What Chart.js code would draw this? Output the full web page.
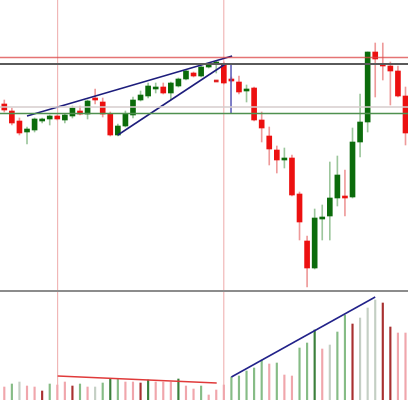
<!DOCTYPE html>
<html>
<head>
<meta charset="utf-8">
<script src="https://cdn.jsdelivr.net/npm/chart.js@4.4.0/dist/chart.umd.min.js"></script>
<style>
  html, body { margin: 0; padding: 0; background: #fff; overflow: hidden; }
  #wrap { width: 408px; height: 400px; position: relative; }
  canvas { display: block; }
  #sep { height: 2px; background: #8c8c8c; }
</style>
</head>
<body>
<div id="wrap">
  <canvas id="chart-price" width="408" height="290"></canvas>
  <div id="sep"></div>
  <canvas id="chart-volume" width="408" height="108"></canvas>
</div>
<script>
// Candle data (bar index 0..53)
const opens  = [196,189,179,168,170,179,181,184,180,184,189,186,202,198,186,165,174,185,200,204,211,213,207,214,221,227,224,233,236,236,221,218,209,212,180,164,150,140,142,106,59,32,81,84,102,103,103,158,178,248,236,234,229,204];
const closes = [190,177,167,171,181,181,184,181,185,192,186,199,200,186,165,174,186,200,205,214,212,207,217,221,229,224,233,236,238,217,219,208,211,180,172,151,140,142,105,78,32,82,83,102,125,102,158,178,248,241,234,229,204,167];
const highs  = [200,192,182,173,182,182,185,185,186,194,194,200,211,202,188,176,189,203,209,217,217,217,218,222,230,228,234,237,239,238,223,224,215,213,188,173,154,152,145,108,64,91,95,138,144,130,172,206,248,257,257,238,234,213];
const lows   = [188,175,165,156,168,177,175,180,177,182,185,181,196,183,164,164,173,182,199,202,207,206,200,213,220,223,223,232,227,216,218,206,198,179,158,135,127,132,104,60,13,31,60,60,94,84,102,143,168,203,220,195,203,155];

// Volume (same index), and bar kind: u up, U strong up, d down, D strong down, n neutral
const volumes = [13,16,18,14,13,9,16,15,18,14,16,13,13,17,21,21,18,18,17,20,18,18,18,21,14,11,14,5,10,15,23,24,29,32,40,36,37,25,24,52,57,70,51,55,68,85,76,82,92,100,97,73,67,67];
const volKind = ['d','u','n','d','d','D','u','d','d','D','u','d','n','u','U','u','d','d','D','U','d','d','d','U','d','d','u','d','d','d','u','u','u','u','u','d','u','d','d','u','u','U','d','n','u','u','D','n','n','n','D','D','d','d'];

// Odd marker under bar 28
const markerX = [28];
const markerY = [219];

// Horizontal levels on the price panel
const levelRed = 242.5;
const levelDark = 236;
const levelLight = 193;
const levelGreen = 186.5;

// Vertical session lines (bar index)
const sessionLines = [7.05, 29.0];

// Trend lines: [x, y] pairs in bar index / price units
const trendUpper = [[3.0, 184], [30.1, 244]];
const trendLower = [[15.0, 165], [29.2, 236]];
const measureLine = [[29.95, 236], [29.95, 186.5]];
const volTrendRed = [[7.05, 24], [28.06, 17]];
const volTrendBlue = [[30.0, 23], [49.0, 103]];

const X_MIN = -0.568;
const X_MAX = 53.33;

const idx = opens.map((_, i) => i);
const isUp = idx.map(i => closes[i] >= opens[i]);

function lineSet(points, color, width) {
  return {
    type: 'line',
    data: points.map(p => ({ x: p[0], y: p[1] })),
    borderColor: color,
    borderWidth: width,
    pointRadius: 0,
    tension: 0,
    fill: false,
    order: 0
  };
}

function hLine(y, color, width) {
  return lineSet([[X_MIN - 1, y], [X_MAX + 1, y]], color, width);
}

function vLines(yMin, yMax) {
  return sessionLines.map(x => Object.assign(lineSet([[x, yMin], [x, yMax]], '#eeaaaa', 1), { order: 5 }));
}

const baseOptions = (yMin, yMax) => ({
  responsive: false,
  animation: false,
  events: [],
  layout: { padding: 0 },
  plugins: { legend: { display: false }, tooltip: { enabled: false } },
  scales: {
    x: { type: 'linear', display: false, min: X_MIN, max: X_MAX, offset: false },
    y: { display: false, min: yMin, max: yMax }
  }
});

// Price panel
new Chart(document.getElementById('chart-price'), {
  type: 'bar',
  data: {
    datasets: [
      ...vLines(10, 300),
      {
        // wicks
        data: idx.map(i => ({ x: i, y: [lows[i], highs[i]] })),
        backgroundColor: idx.map(i => isUp[i] ? '#9cc69c' : '#ee9a9a'),
        barThickness: 1,
        grouped: false,
        borderWidth: 0,
        borderSkipped: false,
        order: 3
      },
      {
        // bodies
        data: idx.map(i => ({ x: i, y: [opens[i], closes[i]] })),
        backgroundColor: idx.map(i => isUp[i] ? '#0b6b0b' : '#ec1010'),
        barThickness: 5,
        minBarLength: 2,
        grouped: false,
        borderWidth: 0,
        borderSkipped: false,
        order: 2
      },
      {
        data: markerX.map((x, i) => ({ x, y: [markerY[i] - 1, markerY[i] + 1] })),
        backgroundColor: '#e02020',
        barThickness: 4,
        grouped: false,
        borderWidth: 0,
        order: 2
      },
      hLine(levelRed, 'rgba(220,70,70,0.75)', 1.5),
      hLine(levelDark, '#5a5a5a', 2),
      hLine(levelLight, '#d6cccc', 1.5),
      hLine(levelGreen, '#4f914f', 1.5),
      lineSet(trendUpper, '#1d1d7c', 1.5),
      lineSet(trendLower, '#1d1d7c', 1.5),
      lineSet(measureLine, '#5555b5', 1.5)
    ]
  },
  options: baseOptions(10, 300)
});

// Volume panel
const volColors = { u: '#86bc86', U: '#3b7f3b', d: '#f0a6ac', D: '#a83030', n: '#c4cfc4' };

new Chart(document.getElementById('chart-volume'), {
  type: 'bar',
  data: {
    datasets: [
      ...vLines(0, 108),
      {
        data: idx.map(i => ({ x: i, y: volumes[i] })),
        backgroundColor: idx.map(i => volColors[volKind[i]]),
        barThickness: 1.5,
        grouped: false,
        borderWidth: 0,
        order: 2
      },
      lineSet(volTrendRed, '#e03a3a', 1.5),
      lineSet(volTrendBlue, '#22228a', 1.5)
    ]
  },
  options: baseOptions(0, 108)
});
</script>
</body>
</html>
